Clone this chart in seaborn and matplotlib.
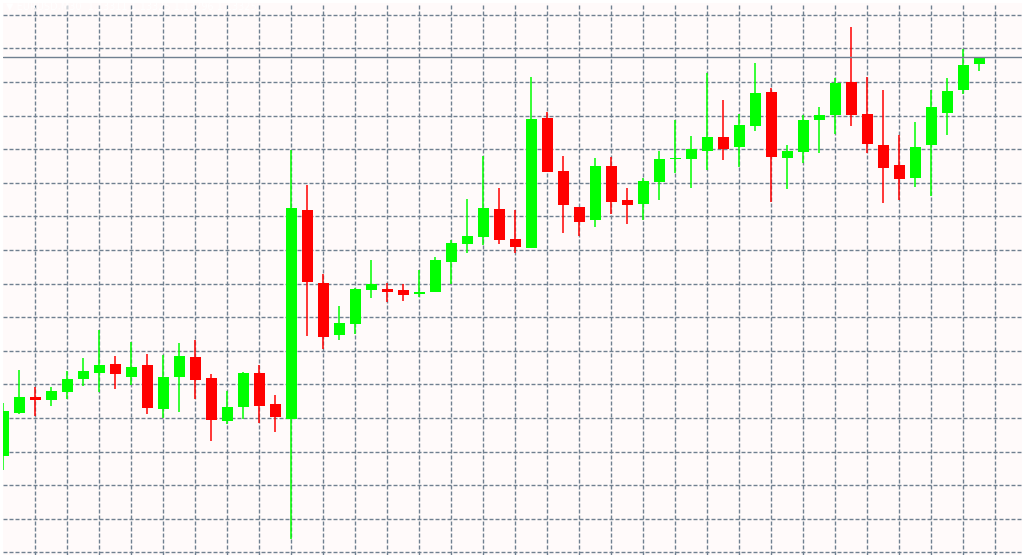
import numpy as np
import matplotlib
matplotlib.use("Agg")
import matplotlib.pyplot as plt
import seaborn as sns

# ---- data (EURUSD, M30) ----
opens = [1.12527, 1.12612, 1.12644, 1.12639, 1.12655, 1.12680, 1.12692, 1.12710, 1.12684, 1.12708,
         1.12620, 1.12684, 1.12724, 1.12682, 1.12596, 1.12624, 1.12692, 1.12630, 1.12600, 1.13018,
         1.12872, 1.12769, 1.12791, 1.12859, 1.12860, 1.12858, 1.12851, 1.12854, 1.12915, 1.12951,
         1.12964, 1.13020, 1.12960, 1.12943, 1.13202, 1.13096, 1.13024, 1.12999, 1.13106, 1.13038,
         1.13031, 1.13075, 1.13121, 1.13121, 1.13137, 1.13164, 1.13145, 1.13187, 1.13254, 1.13123,
         1.13135, 1.13199, 1.13208, 1.13274, 1.13210, 1.13148, 1.13108, 1.13083, 1.13149, 1.13213,
         1.13259, 1.13311]
highs = [1.12632, 1.12698, 1.12665, 1.12664, 1.12696, 1.12722, 1.12778, 1.12726, 1.12754, 1.12730,
         1.12728, 1.12752, 1.12758, 1.12690, 1.12656, 1.12694, 1.12708, 1.12648, 1.13139, 1.13068,
         1.12890, 1.12827, 1.12862, 1.12919, 1.12873, 1.12870, 1.12898, 1.12925, 1.12958, 1.13040,
         1.13127, 1.13062, 1.13018, 1.13284, 1.13214, 1.13126, 1.13024, 1.13122, 1.13125, 1.13062,
         1.13082, 1.13136, 1.13198, 1.13166, 1.13293, 1.13238, 1.13210, 1.13312, 1.13262, 1.13148,
         1.13208, 1.13224, 1.13282, 1.13384, 1.13284, 1.13258, 1.13168, 1.13194, 1.13258, 1.13282,
         1.13340, 1.13325]
lows = [1.12499, 1.12611, 1.12606, 1.12626, 1.12641, 1.12667, 1.12655, 1.12660, 1.12668, 1.12611,
        1.12602, 1.12614, 1.12640, 1.12556, 1.12590, 1.12601, 1.12593, 1.12574, 1.12360, 1.12767,
        1.12740, 1.12759, 1.12771, 1.12843, 1.12834, 1.12837, 1.12845, 1.12854, 1.12870, 1.12933,
        1.12948, 1.12951, 1.12932, 1.12943, 1.13095, 1.12973, 1.12967, 1.12985, 1.13011, 1.12991,
        1.12999, 1.13039, 1.13093, 1.13063, 1.13099, 1.13119, 1.13105, 1.13177, 1.13035, 1.13061,
        1.13113, 1.13133, 1.13170, 1.13187, 1.13133, 1.13033, 1.13038, 1.13065, 1.13047, 1.13169,
        1.13251, 1.13296]
closes = [1.12616, 1.12644, 1.12639, 1.12656, 1.12680, 1.12696, 1.12708, 1.12691, 1.12704, 1.12622,
          1.12684, 1.12726, 1.12678, 1.12598, 1.12624, 1.12692, 1.12626, 1.12604, 1.13022, 1.12875,
          1.12765, 1.12792, 1.12860, 1.12870, 1.12855, 1.12849, 1.12854, 1.12919, 1.12952, 1.12966,
          1.13022, 1.12959, 1.12945, 1.13200, 1.13095, 1.13029, 1.12995, 1.13106, 1.13035, 1.13029,
          1.13076, 1.13120, 1.13122, 1.13140, 1.13164, 1.13141, 1.13188, 1.13252, 1.13125, 1.13136,
          1.13198, 1.13208, 1.13272, 1.13209, 1.13151, 1.13103, 1.13081, 1.13144, 1.13224, 1.13256,
          1.13308, 1.13325]
header = "\u25bc EURUSD,M30  1.13311 1.13325 1.13296 1.13325"

# ---- style ----
sns.set_theme(style="whitegrid")
plt.rcParams["lines.scale_dashes"] = False
plt.rcParams["font.family"] = ["DejaVu Sans"]

UP = "#00FF00"
DOWN = "#FF0000"
GRID = "#708090"
BG = "#FFFAFA"

o = np.array(opens); h = np.array(highs); l = np.array(lows); c = np.array(closes)
x = np.arange(len(o))
up = c >= o
col = np.where(up, UP, DOWN)

W, H = 1031, 559
fig = plt.figure(figsize=(W / 100, H / 100), dpi=100)
fig.patch.set_facecolor("white")
ax = fig.add_axes([3 / W, 4 / H, 1019 / W, 552 / H])
ax.set_facecolor(BG)

# grid
grid_top = 1.13409
grid_step = 0.000672
ax.set_yticks(grid_top - grid_step * np.arange(17))
ax.set_xticks(np.arange(2, 64, 2))
ax.grid(True, color=GRID, linewidth=1.0, linestyle=(0, (2.88, 1.44)))
ax.tick_params(length=0, labelbottom=False, labelleft=False)
for s in ax.spines.values():
    s.set_visible(False)
ax.set_axisbelow(True)

# wicks
ax.vlines(x, l, h, colors=col, linewidth=1.1, zorder=2)
# bodies
body_h = np.maximum(np.abs(c - o), 0.000022)
body_b = np.minimum(o, c)
ax.bar(x, body_h, bottom=body_b, width=0.69, color=col, linewidth=0, zorder=3)

# bid line
ax.axhline(c[-1], color=GRID, linewidth=1.0, zorder=4)

ax.set_xlim(-0.02, 63.67)
ax.set_ylim(1.123284, 1.134324)

fig.text(6 / W, 1 - 7 / H, header, color="white", fontsize=7, va="center", ha="left")

fig.savefig("out.png", dpi=100, facecolor=fig.get_facecolor())
